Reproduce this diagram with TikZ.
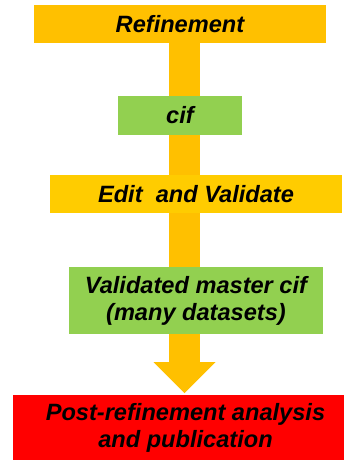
\documentclass[tikz,border=0pt]{standalone}
\usepackage{fontspec}
\setmainfont{Liberation Sans}
\usetikzlibrary{backgrounds,calc}
\definecolor{flowamber}{HTML}{FFC000}
\definecolor{boxyellow}{HTML}{FFCC00}
\definecolor{boxgreen}{HTML}{92D050}
\definecolor{boxred}{HTML}{FF0000}
\begin{document}
\begin{tikzpicture}[x=1pt,y=-1pt,
  stagefont/.style={font=\fontsize{23.6}{27}\selectfont\bfseries\itshape, text=black, align=center},
  stage/.style={rectangle, inner sep=0pt, stagefont},
]
\useasboundingbox (0,0) rectangle (344,461);

% process stages
\node[stage, fill=flowamber, minimum width=292pt, minimum height=38pt] (refine) at (180,24) {Refinement};
\node[stage, fill=boxgreen, minimum width=124pt, minimum height=39pt] (cif) at (180,115.5) {cif};
\node[stage, fill=boxyellow, minimum width=292pt, minimum height=38pt] (edit) at (196,194) {Edit~~and Validate};
\node[stage, fill=boxgreen, minimum width=254pt, minimum height=67pt] (valid) at (196,300.5) {Validated master cif\\(many datasets)};
\node[stage, fill=boxred, minimum width=331pt, minimum height=65pt] (post) at (178.5,427.5) {};
\node[stagefont, inner sep=0pt] (postlabel) at ($(post.center)+(7,0)$) {Post-refinement analysis\\and publication};

% the flow arrow running behind the boxes
\coordinate (headbase) at (184.5,362);
\coordinate (tip) at (184.5,393);
\begin{scope}[on background layer]
  \fill[flowamber] ($(refine.south -| tip)+(-15.5,0)$) rectangle ($(headbase)+(15.5,0)$);
  \fill[flowamber] ($(headbase)+(-31,0)$) -- ($(headbase)+(31,0)$) -- (tip) -- cycle;
\end{scope}
\end{tikzpicture}
\end{document}
